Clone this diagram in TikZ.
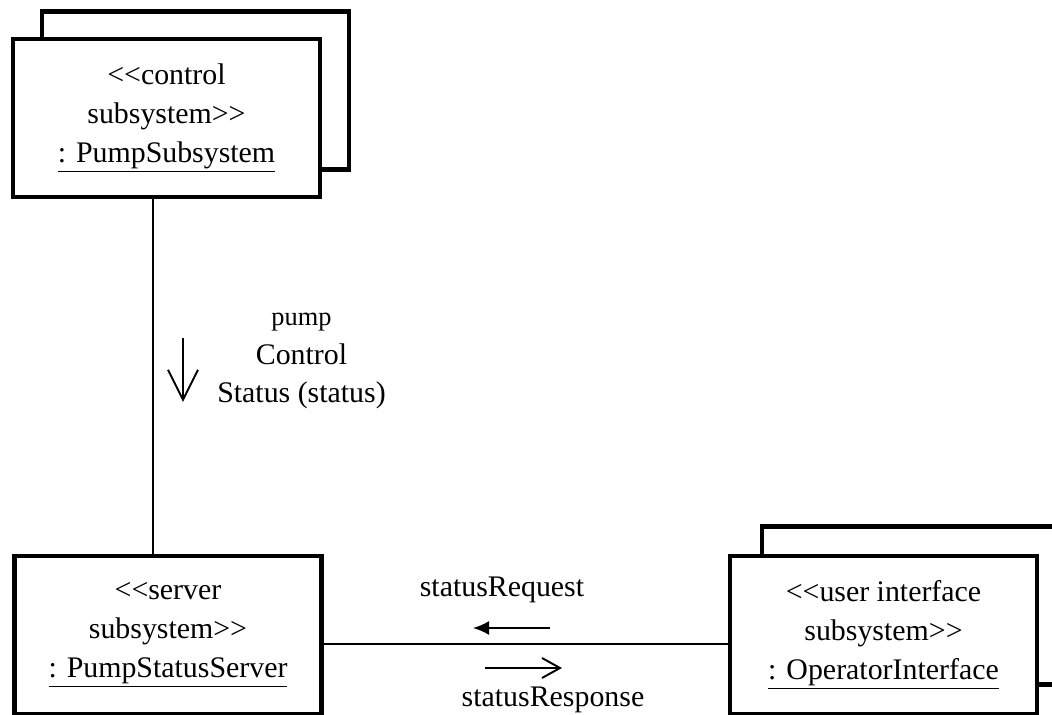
\documentclass[tikz,border=0pt]{standalone}
\usepackage{fontspec}
\setmainfont{Liberation Serif}
\usetikzlibrary{arrows.meta,positioning}

\begin{document}
\begin{tikzpicture}[
  box/.style={rectangle, draw, line width=2.8pt, fill=white, minimum width=6.14cm, minimum height=3.16cm, align=center, inner sep=0pt},
  backbox/.style={rectangle, draw, line width=2.6pt, fill=white, minimum width=6.14cm, minimum height=3.16cm},
  link/.style={line width=1.5pt},
  msg/.style={-{Straight Barb[length=3.6mm,width=4mm]}, line width=1.1pt},
  every node/.style={font=\fontsize{17}{22}\selectfont}
]
\clip (0,0) rectangle (21.04,14.3);

% control subsystem (multiple instances)
\node[backbox] (psback) at (3.91,12.49) {};
\node[box] (ps) at (3.33,11.94) {<{}<control\\subsystem>{}>\\\underline{: PumpSubsystem}};

% server subsystem
\node[box] (srv) at (3.36,1.6) {<{}<server\\subsystem>{}>\\\underline{: PumpStatusServer}};

% user interface subsystem (multiple instances)
\node[backbox] (opback) at (18.31,2.19) {};
\node[box] (op) at (17.67,1.6) {<{}<user interface\\subsystem>{}>\\\underline{: OperatorInterface}};

% Links
\draw[link] ([xshift=-0.27cm]ps.south) -- ([xshift=-0.3cm]srv.north);
\draw[link] ([yshift=-0.18cm]srv.east) -- ([yshift=-0.18cm]srv.east -| op.west);

% Messages
\coordinate (down) at (3.66,7.54);
\draw[msg, -{Straight Barb[length=6mm,width=6mm]}] (down) -- ++(0,-1.28);
\node[align=center] (ctrl) at (6.03,7.08) {{\fontsize{15}{18}\selectfont pump}\\Control\\Status (status)};

\coordinate (req) at (11,1.74);
\draw[line width=1.1pt, -{Latex[length=3.2mm,width=2.8mm]}] (req) -- ++(-1.54,0);
\node (reqlbl) at (10.04,2.5) {statusRequest};

\coordinate (resp) at (9.7,0.94);
\draw[msg] (resp) -- ++(1.54,0);
\node (resplbl) at (11.06,0.3) {statusResponse};

\end{tikzpicture}
\end{document}
